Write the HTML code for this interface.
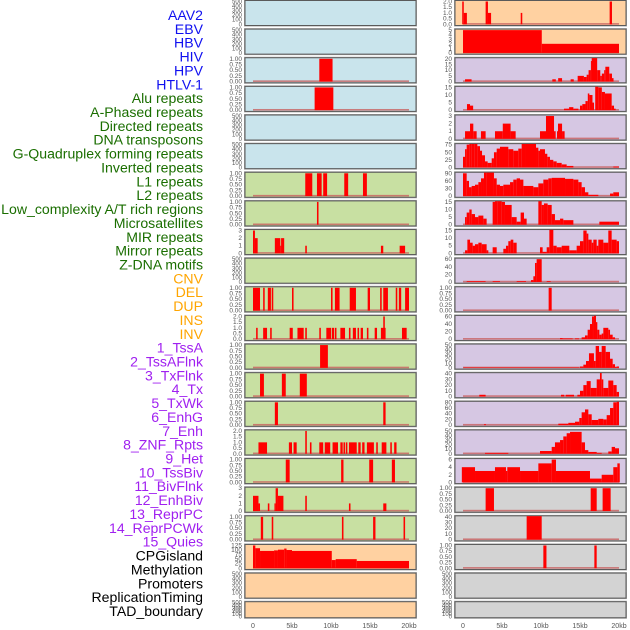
<!DOCTYPE html>
<html><head><meta charset="utf-8">
<style>
html,body{margin:0;padding:0;background:#fff;}
svg{display:block;font-family:"Liberation Sans",sans-serif;}
</style></head>
<body>
<svg id="chart" width="630" height="630" viewBox="0 0 630 630" xmlns="http://www.w3.org/2000/svg"></svg>
<script>
// ---- labels ----
const labelNames = ["AAV2","EBV","HBV","HIV","HPV","HTLV-1","Alu repeats","A-Phased repeats","Directed repeats","DNA transposons","G-Quadruplex forming repeats","Inverted repeats","L1 repeats","L2 repeats","Low_complexity A/T rich regions","Microsatellites","MIR repeats","Mirror repeats","Z-DNA motifs","CNV","DEL","DUP","INS","INV","1_TssA","2_TssAFlnk","3_TxFlnk","4_Tx","5_TxWk","6_EnhG","7_Enh","8_ZNF_Rpts","9_Het","10_TssBiv","11_BivFlnk","12_EnhBiv","13_ReprPC","14_ReprPCWk","15_Quies","CPGisland","Methylation","Promoters","ReplicationTiming","TAD_boundary"];
const labelGroups = [6,13,5,15,5];
const groupColors = ["#1010f0","#1a6e00","#ffa500","#a020f0","#000000"];

// ---- tick sets ----
const T500=[0,100,200,300,400,500], T1=[0,0.25,0.5,0.75,1], T2=[0,0.5,1,1.5,2], T3=[0,1,2,3];
const xTickVals=[0,5,10,15,20];
const xTickLabels=["0","5kb","10kb","15kb","20kb"];

// ---- data: segments [startKb, endKb, value] ----
const L_HIV=[[8.5,10.2,1]];
const L_HPV=[[7.9,10.3,1]];
const L_row6=[[6.7,7.6,1],[8.2,8.8,1],[9.0,9.5,1],[11.7,12.2,1],[14.1,14.6,1]];
const L_row7=[[8.2,8.4,1]];
const L_row8=[[0,0.25,3],[0.25,0.6,2],[2.8,3.5,2],[3.5,3.6,1],[3.6,4.0,2],[6.7,6.9,1],[16.4,16.7,1],[18.8,19.5,1]];
const L_row10=[[0,0.9,1],[1.3,1.5,1],[1.9,2.3,1],[2.4,2.6,1],[5.0,5.2,1],[10.0,10.2,1],[10.5,11.1,1],[12.4,13.2,1],[14.7,15.0,1],[16.3,16.5,1],[16.7,17.3,1],[18.3,18.5,1],[18.7,19.0,1],[19.5,20.0,1]];
const L_row11=[[0.4,0.6,1],[1.3,1.8,1],[2.2,2.4,1],[4.7,5.1,1],[5.7,6.5,1],[6.7,6.9,1],[8.5,8.7,1],[9.4,10.0,1],[10.1,10.4,1],[10.5,10.7,1],[11.2,11.8,1],[12.3,12.5,1],[12.8,13.2,1],[13.4,13.6,1],[13.8,14.1,1],[14.6,14.8,1],[15.6,15.9,1],[16.4,17.0,1],[16.7,16.9,2],[19.1,19.7,1]];
const L_row12=[[8.6,9.6,1]];
const L_row13=[[0.9,1.4,1],[3.7,4.2,1],[6.0,6.9,1]];
const L_row14=[[2.8,3.2,1],[16.7,17.0,1]];
const L_row15=[[0.7,1.8,1],[4.6,5.0,1],[5.2,5.6,1],[6.7,6.9,2],[7.3,7.5,1],[8.5,9.0,1],[9.2,9.9,1],[10.2,10.9,1],[11.2,11.5,1],[11.6,11.8,1],[11.9,12.1,1],[12.3,13.3,1],[13.5,13.8,1],[14.0,14.3,1],[14.6,15.5,1],[15.8,16.0,1],[16.5,17.1,1],[17.6,17.8,1],[18.1,18.4,1]];
const L_row16=[[4.2,4.7,1],[11.3,11.6,1],[14.9,15.4,1],[17.8,18.2,1]];
const L_row17=[[0,0.7,2],[0.7,0.9,1],[1.9,2.1,1],[2.75,2.9,1],[2.9,3.2,3],[3.2,3.9,2],[6.7,6.9,2],[12.3,12.5,1],[16.7,17.1,1]];
const L_row18=[[1.0,1.3,1],[2.4,2.6,1],[11.4,11.6,1],[15.4,15.7,1],[19.3,19.5,1]];
const L_cpg=[[0,0.3,125],[0.3,0.9,110],[0.9,2.7,95],[2.7,3.2,98],[3.2,4.0,102],[4.0,4.3,108],[4.3,5.0,100],[5.0,10.1,95],[10.1,10.6,45],[10.6,13.3,50],[13.3,20,40]];

const R_row0=[[-0.1,0.1,2],[0.1,0.5,1],[2.9,3.2,2],[3.2,3.6,1],[7.4,7.6,1],[18.8,19.1,2]];
const R_row1=[[0,10.1,5],[10.1,20,2]];
const R_row2=[[0.26,1.1,2],[11.45,11.9,2],[12.2,12.7,3],[13.8,14.2,2],[14.7,15.5,5],[15.5,15.85,4],[15.85,16.1,6],[16.1,16.4,10],[16.4,16.5,18],[16.5,17.2,22],[17.2,17.6,10],[17.6,17.8,5],[17.8,18.1,7],[18.1,18.25,10],[18.25,18.75,13],[18.75,19.1,7],[19.1,19.3,3]];
const R_row3=[[0.51,0.9,4],[0.9,1.3,3],[12.95,13.6,1],[13.6,14.15,2],[14.15,14.8,1],[15.0,15.3,3],[15.3,15.7,4],[15.7,16.0,6],[16.0,16.2,11],[16.2,16.6,10],[16.6,16.8,5],[16.95,17.35,18],[17.35,17.8,15],[17.8,18.2,12],[18.2,19.06,11],[19.06,19.36,3],[19.36,19.57,1]];
const R_row4=[[0.26,0.9,1],[0.9,1.32,2],[1.32,1.75,1],[2.3,2.9,1],[4.1,5.1,1],[5.1,6.1,2],[6.1,6.75,1],[9.87,10.64,1],[10.64,11.67,3],[11.67,11.88,1],[12.05,12.18,1],[12.18,12.7,2],[12.7,13.03,1]];
const R_row5=[[0,0.26,35],[0.26,0.47,60],[0.47,0.81,75],[0.81,1.11,85],[1.11,1.45,88],[1.45,1.84,80],[1.84,2.18,70],[2.18,2.44,55],[2.44,2.82,40],[2.82,3.16,20],[3.16,3.68,15],[3.68,3.97,30],[3.97,4.32,50],[4.32,4.74,62],[4.74,5.81,68],[5.81,6.45,60],[6.45,7.09,55],[7.09,7.52,62],[7.52,7.95,80],[7.95,9.36,88],[9.36,9.66,65],[9.66,9.87,55],[9.87,10.51,60],[10.51,10.81,45],[10.81,11.15,35],[11.15,11.58,25],[11.58,12.01,20],[12.01,12.65,15],[12.65,13.29,10],[13.29,14.15,5],[19.27,20,3]];
const R_row6=[[0,0.47,90],[0.47,0.77,60],[0.77,1.11,35],[1.11,1.54,40],[1.54,1.97,45],[1.97,2.31,55],[2.31,2.69,70],[2.69,3.03,95],[3.03,3.97,100],[3.97,4.32,70],[4.32,4.74,45],[4.74,5.17,40],[5.17,6.03,45],[6.03,6.45,55],[6.45,6.88,65],[6.88,7.31,70],[7.31,7.74,65],[7.74,9.02,40],[9.02,9.66,35],[9.66,10.3,50],[10.3,10.94,65],[10.94,11.37,70],[11.37,13.08,72],[13.08,14.15,68],[14.15,14.79,65],[14.79,15.21,55],[15.21,15.64,35],[15.64,16.07,15],[16.07,17.35,5],[18.85,19.27,10],[19.27,20,15]];
const R_row7=[[0.26,0.47,5],[0.47,0.81,8],[0.81,1.11,10],[1.11,1.54,7],[1.54,1.97,5],[1.97,2.61,6],[2.61,3.03,4],[3.8,4.1,15],[4.1,4.4,18],[4.4,4.96,17],[4.96,5.38,15],[5.38,6.24,13],[6.24,6.88,5],[6.88,7.39,2],[7.39,7.82,8],[7.82,8.16,4],[9.66,10.09,16],[10.09,10.38,13],[10.38,10.85,14],[10.85,11.37,13],[11.37,11.79,7],[11.79,12.44,3],[12.44,12.86,4],[12.86,14.15,3],[17.48,20,2]];
const R_row8=[[0.26,0.56,2],[0.56,0.9,9],[0.9,1.24,7],[1.24,1.54,5],[1.54,1.97,6],[1.97,2.39,7],[2.39,3.03,6],[3.03,3.25,2],[3.8,4.32,4],[5.17,5.51,3],[5.51,5.81,5],[5.81,6.11,8],[6.11,6.45,9],[6.45,6.88,7],[9.87,10.21,4],[10.21,10.73,1],[10.73,11.07,4],[11.07,11.58,18],[11.58,12.01,5],[12.01,12.65,4],[12.65,13.63,5],[13.63,14.57,2],[14.57,15.0,5],[15.0,15.43,8],[15.43,15.85,15],[15.85,16.07,13],[16.07,16.5,9],[16.5,16.71,7],[16.71,17.14,9],[17.14,17.35,5],[17.35,17.99,9],[17.99,18.63,7],[18.63,19.06,15],[19.06,19.7,9],[19.7,20,8]];
const R_row9=[[0.47,2.9,2],[3.8,4.74,2],[6.88,8.08,2],[8.72,9.02,5],[9.02,9.23,15],[9.23,9.44,50],[9.44,10.09,60],[10.73,11.24,2]];
const R_row10=[[10.98,11.37,1]];
const R_row11=[[12.44,12.78,3],[12.78,14.06,2],[14.36,14.87,2],[15.21,15.64,5],[15.64,15.98,10],[15.98,16.28,25],[16.28,16.54,40],[16.54,16.79,60],[16.79,17.05,65],[17.05,17.22,45],[17.22,17.48,25],[17.48,17.78,12],[17.78,17.99,15],[17.99,18.63,30],[18.63,18.85,25],[18.85,19.19,12],[19.19,19.49,5]];
const R_row12=[[0.04,14.91,1],[15.0,15.43,3],[15.43,15.77,7],[15.77,16.15,15],[16.15,16.79,32],[16.79,17.01,15],[17.01,17.44,48],[17.44,17.78,35],[17.78,18.29,48],[18.29,18.85,35],[18.85,19.19,20],[19.19,19.49,8],[19.49,19.7,2],[19.7,20,3]];
const R_row13=[[2.09,2.9,3],[12.56,12.99,3],[13.16,14.23,3],[14.66,15.0,3],[15.0,15.43,10],[15.43,15.85,20],[15.85,16.37,27],[16.37,17.14,15],[17.14,17.56,30],[17.56,17.78,45],[17.78,17.99,30],[17.99,18.63,15],[18.63,19.27,28],[19.27,19.7,20],[19.7,20,8]];
const R_row14=[[2.69,2.95,3],[12.22,13.5,5],[13.5,14.36,8],[14.36,14.91,12],[14.91,15.21,25],[15.21,15.64,45],[15.64,16.07,55],[16.07,16.5,38],[16.5,17.35,18],[17.35,17.99,22],[17.99,18.42,20],[18.42,18.85,35],[18.85,19.27,60],[19.27,19.7,80],[19.7,20,82]];
const R_row15=[[2.82,5.81,2],[9.87,11.37,6],[11.37,11.79,15],[11.79,12.44,25],[12.44,12.86,30],[12.86,13.29,38],[13.29,13.72,45],[13.72,15.21,48],[15.21,15.64,25],[15.64,16.07,8],[16.07,17.14,4],[17.14,17.78,2],[18.63,19.06,5],[19.06,19.49,15],[19.49,20,12]];
const R_row16=[[-0.15,1.54,4],[1.54,4.1,3],[4.1,5.51,4],[5.51,5.68,3],[5.68,7.31,4],[7.31,9.66,3],[9.66,11.37,5],[11.37,11.92,6],[11.92,16.28,3],[16.28,17.78,1],[17.78,19.27,2],[19.27,19.79,4],[19.79,20.1,5]];
const R_row17=[[2.9,3.97,1],[16.37,17.14,1],[17.9,18.93,1]];
const R_row18=[[8.16,10.09,44]];
const R_row19=[[10.3,10.7,1],[16.84,17.14,1]];

// ---- panel configuration ----
const BLUE="#c9e4ec",GREEN="#c8e0a2",PEACH="#ffd1a1",LAV="#d6c7e3",GREY="#d3d3d3";
const leftCol=[
 [BLUE,T500,null],[BLUE,T500,null],[BLUE,T1,L_HIV],[BLUE,T1,L_HPV],[BLUE,T500,null],[BLUE,T500,null],
 [GREEN,T1,L_row6],[GREEN,T1,L_row7],[GREEN,T3,L_row8],[GREEN,T500,null],[GREEN,T1,L_row10],[GREEN,T2,L_row11],
 [GREEN,T1,L_row12],[GREEN,T1,L_row13],[GREEN,T1,L_row14],[GREEN,T2,L_row15],[GREEN,T1,L_row16],[GREEN,T3,L_row17],[GREEN,T1,L_row18],
 [PEACH,[0,25,50,75,100,125],L_cpg],[PEACH,T500,null],[PEACH,T500,null]];
const rightCol=[
 [PEACH,T2,R_row0],[PEACH,[0,1,2,3,4,5],R_row1],
 [LAV,[0,5,10,15,20],R_row2],[LAV,[0,5,10,15],R_row3,18],[LAV,T3,R_row4],[LAV,[0,25,50,75],R_row5,90],[LAV,[0,30,60,90],R_row6,100],
 [LAV,[0,5,10,15],R_row7,18],[LAV,[0,5,10,15],R_row8,18],[LAV,[0,20,40,60],R_row9],[LAV,T1,R_row10],[LAV,[0,20,40,60],R_row11,65],
 [LAV,[0,10,20,30,40,50],R_row12],[LAV,[0,10,20,30,40],R_row13,45],[LAV,[0,20,40,60,80],R_row14],[LAV,[0,10,20,30,40,50],R_row15],[LAV,[0,2,4,6],R_row16],
 [GREY,T1,R_row17],[GREY,[0,10,20,30,40],R_row18,45],[GREY,T1,R_row19],[GREY,T500,null],[GREY,T500,null]];

const NS="http://www.w3.org/2000/svg";
const svg=document.getElementById('chart');
function mk(tag,attrs,parent){const e=document.createElementNS(NS,tag);for(const k in attrs)e.setAttribute(k,attrs[k]);(parent||svg).appendChild(e);return e;}
function fmt(v,ticks){const dec=ticks.some(t=>t%1!==0);if(!dec)return String(v);const need2=ticks.some(t=>(t*10)%1!==0);return v.toFixed(need2?2:1);}

// labels
let li=0;
labelGroups.forEach((n,g)=>{for(let i=0;i<n;i++){const y=20+li*13.86;
 const t=mk('text',{x:203,y:y.toFixed(1),'text-anchor':'end','font-size':'14.1',fill:groupColors[g]});
 
 
 t.textContent=labelNames[li];li++;}});

const PITCH=28.63, PW=171, KBW=156;
function drawCol(cols,px,x0,colName){
 cols.forEach((p,r)=>{
  const top=r*PITCH+0.5, h=(r===21)?16:25;
  const g=mk('g',{});
  
  
  mk('rect',{x:px-0.5,y:top-0.5,width:PW+1,height:h+1,fill:'none',stroke:'#aaa','stroke-width':1},g);
  mk('rect',{x:px,y:top,width:PW,height:h,fill:p[0],stroke:'#5a5a5a','stroke-width':1},g);
  const ticks=p[1], tmax=ticks[ticks.length-1];
  const yb=top+h-1.2, yt=top+1;
  const ys=v=>yb-(v/tmax)*(yb-yt);
  const xs=kb=>x0+kb/20*KBW;
  ticks.forEach(v=>{const t=mk('text',{x:px-3,y:(ys(v)+2).toFixed(1),'text-anchor':'end','font-size':(ticks===T500?'6':'6.5'),fill:'#555'},g);
   t.textContent=fmt(v,ticks);});
  if(p[2]){
   const bl=mk('rect',{x:xs(0),y:yb-1.2,width:KBW,height:1.6,fill:'#c86060',opacity:0.8},g);
   
   p[2].forEach(s=>{const v=Math.min(s[2],tmax*1.03);const y=Math.max(ys(v),top);
    const b=mk('rect',{x:xs(s[0]).toFixed(2),y:y.toFixed(2),width:Math.max(xs(s[1])-xs(s[0]),1).toFixed(2),height:(yb-y).toFixed(2),fill:'#ff0000'},g);
    });
  }
 });
 xTickVals.forEach((v,i)=>{const t=mk('text',{x:x0+v/20*KBW,y:628,'text-anchor':'middle','font-size':'7',fill:'#555'});
  t.textContent=xTickLabels[i];});
}
drawCol(leftCol,245,253,'left');
drawCol(rightCol,455,463,'right');
</script>
</body></html>
